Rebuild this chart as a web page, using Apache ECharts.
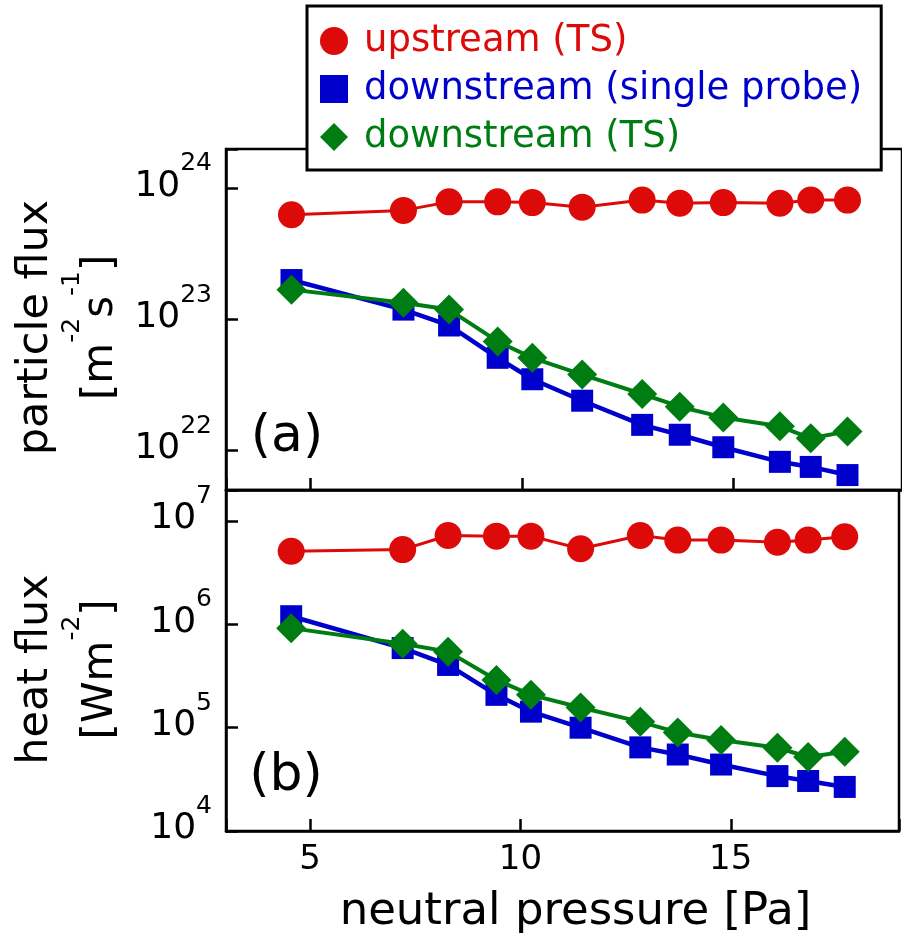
<!DOCTYPE html>
<html><head><meta charset="utf-8">
<script src="https://cdn.jsdelivr.net/npm/echarts@6/dist/echarts.min.js"></script>
<style>html,body{margin:0;padding:0;background:#fff}#c{width:902px;height:947px}</style>
</head><body><div id="c"></div>
<script>
// ---- data ----
const pressure = [4.55, 7.2, 8.28, 9.43, 10.25, 11.43, 12.85, 13.74, 14.77, 16.11, 16.84, 17.71];
const particleUpstreamTS = [6.3e23, 6.8e23, 7.9e23, 7.9e23, 7.8e23, 7.2e23, 8.15e23, 7.7e23, 7.8e23, 7.7e23, 8.15e23, 8.15e23];
const particleDownProbe = [2.0e23, 1.19e23, 9.0e22, 5.1e22, 3.5e22, 2.4e22, 1.57e22, 1.32e22, 1.06e22, 8.2e21, 7.5e21, 6.5e21];
const particleDownTS = [1.69e23, 1.34e23, 1.19e23, 6.8e22, 5.1e22, 3.8e22, 2.7e22, 2.16e22, 1.79e22, 1.53e22, 1.24e22, 1.4e22];
const heatUpstreamTS = [5.1e6, 5.3e6, 7.25e6, 7.15e6, 7.15e6, 5.4e6, 7.25e6, 6.55e6, 6.55e6, 6.25e6, 6.55e6, 7.05e6];
const heatDownProbe = [1.2e6, 5.9e5, 4.05e5, 2.08e5, 1.43e5, 1.0e5, 6.45e4, 5.5e4, 4.4e4, 3.4e4, 3.05e4, 2.67e4];
const heatDownTS = [9.2e5, 6.5e5, 5.45e5, 2.9e5, 2.08e5, 1.57e5, 1.14e5, 9.0e4, 7.6e4, 6.4e4, 5.2e4, 5.85e4];
const seriesNames = ['upstream (TS)', 'downstream (single probe)', 'downstream (TS)'];
const xTicks = [5, 10, 15];
const xRange = [3, 19];
const particleRange = [5e21, 2e24];
const heatRange = [1e4, 2e7];
const panelLabels = ['(a)', '(b)'];

// ---- styling ----
const FF = 'DejaVu Sans';
const colors = ['#dd0a0a', '#0000cc', '#007d12'];
const symbols = ['circle', 'rect', 'diamond'];
const symbolSizes = [27, 22, 30];
const lineWidths = [3, 4.5, 4];

function pair(xs, ys) { return xs.map((x, i) => [x, ys[i]]); }
function powLabel(v) {
  const e = Math.log10(v); const r = Math.round(e);
  if (Math.abs(e - r) > 1e-6) return '';
  return '{h| }{b|10}{s|' + r + '}';
}
const yLabel = {
  formatter: powLabel, margin: 14, padding: [0, 0, 21, 0],
  rich: {
    h: { fontSize: 1, lineHeight: 53 },
    b: { fontSize: 36, fontFamily: FF, color: '#000', verticalAlign: 'bottom', lineHeight: 36 },
    s: { fontSize: 25, fontFamily: FF, color: '#000', verticalAlign: 'top', lineHeight: 25 }
  }
};
const nameRich = {
  t1: { fontSize: 43, fontFamily: FF, color: '#000', lineHeight: 48 },
  h: { fontSize: 1, lineHeight: 62 },
  t2: { fontSize: 42, fontFamily: FF, color: '#000', lineHeight: 42, verticalAlign: 'bottom' },
  s: { fontSize: 25, fontFamily: FF, color: '#000', verticalAlign: 'top', lineHeight: 25 }
};
const axisLineStyle = { show: true, lineStyle: { color: '#000', width: 2.5 } };
const tickStyle = { show: true, inside: true, length: 12, lineStyle: { color: '#000', width: 2.5 } };

const groups = [
  [particleUpstreamTS, particleDownProbe, particleDownTS],
  [heatUpstreamTS, heatDownProbe, heatDownTS]
];
const series = [];
groups.forEach((g, gi) => {
  g.forEach((vals, si) => {
    series.push({
      name: seriesNames[si], type: 'line', xAxisIndex: gi, yAxisIndex: gi,
      data: pair(pressure, vals),
      symbol: symbols[si], symbolSize: symbolSizes[si],
      itemStyle: { color: colors[si] },
      lineStyle: { color: colors[si], width: lineWidths[si] },
      emphasis: { disabled: true }, animation: false, z: 3 + si
    });
  });
});

const chart = echarts.init(document.getElementById('c'), null, { renderer: 'canvas' });
chart.setOption({
  animation: false,
  backgroundColor: '#fff',
  grid: [
    { left: 226, top: 149, right: -6, height: 341, show: true, borderColor: '#000', borderWidth: 2.5, containLabel: false },
    { left: 226, top: 490, right: -6, height: 341, show: true, borderColor: '#000', borderWidth: 2.5, containLabel: false }
  ],
  xAxis: [
    { type: 'value', gridIndex: 0, min: xRange[0], max: xRange[1], splitNumber: 3,
      axisLine: axisLineStyle, axisTick: tickStyle, axisLabel: { show: false }, splitLine: { show: false } },
    { type: 'value', gridIndex: 1, min: xRange[0], max: xRange[1], splitNumber: 3,
      axisLine: axisLineStyle, axisTick: tickStyle, splitLine: { show: false },
      axisLabel: { formatter: v => xTicks.includes(v) ? String(v) : '', fontSize: 34, fontFamily: FF, color: '#000', margin: 12 },
      name: 'neutral pressure [Pa]', nameLocation: 'middle', nameGap: 59,
      nameTextStyle: { fontSize: 45, fontFamily: FF, color: '#000', padding: [0, 0, 0, 26] } }
  ],
  yAxis: [
    { type: 'log', gridIndex: 0, min: particleRange[0], max: particleRange[1], logBase: 10,
      axisLine: axisLineStyle, axisTick: tickStyle, splitLine: { show: false }, minorTick: { show: false },
      axisLabel: yLabel,
      name: '{t1|particle flux}\n{h| }{t2|[m}{s|-2}{t2|s}{s|-1}{t2|]}', nameLocation: 'middle', nameRotate: 90, nameGap: 104,
      nameTextStyle: { rich: nameRich, padding: [0, 16, 0, 0] } },
    { type: 'log', gridIndex: 1, min: heatRange[0], max: heatRange[1], logBase: 10,
      axisLine: axisLineStyle, axisTick: tickStyle, splitLine: { show: false }, minorTick: { show: false },
      axisLabel: yLabel,
      name: '{t1|heat flux}\n{h| }{t2|[Wm}{s|-2}{t2|]}', nameLocation: 'middle', nameRotate: 90, nameGap: 104,
      nameTextStyle: { rich: nameRich, padding: [0, 18, 0, 0] } }
  ],
  legend: {
    orient: 'vertical', left: 307, top: 6, z: 10,
    backgroundColor: '#fff', borderColor: '#000', borderWidth: 3,
    padding: [15, 19, 13, 13], itemWidth: 28, itemHeight: 28, itemGap: 8,
    textStyle: { fontFamily: FF, fontSize: 37, lineHeight: 40, padding: [0, 0, 0, 11] },
    selectedMode: false,
    data: seriesNames.map((n, i) => ({ name: n, icon: symbols[i], itemStyle: { color: colors[i] }, textStyle: { color: colors[i] } }))
  },
  graphic: [
    { type: 'text', x: 287, y: 437, z: 5, style: { text: panelLabels[0], fontSize: 52, fontFamily: FF, fill: '#000', align: 'center', verticalAlign: 'middle' } },
    { type: 'text', x: 286, y: 776, z: 5, style: { text: panelLabels[1], fontSize: 52, fontFamily: FF, fill: '#000', align: 'center', verticalAlign: 'middle' } }
  ],
  series: series
});
</script></body></html>
